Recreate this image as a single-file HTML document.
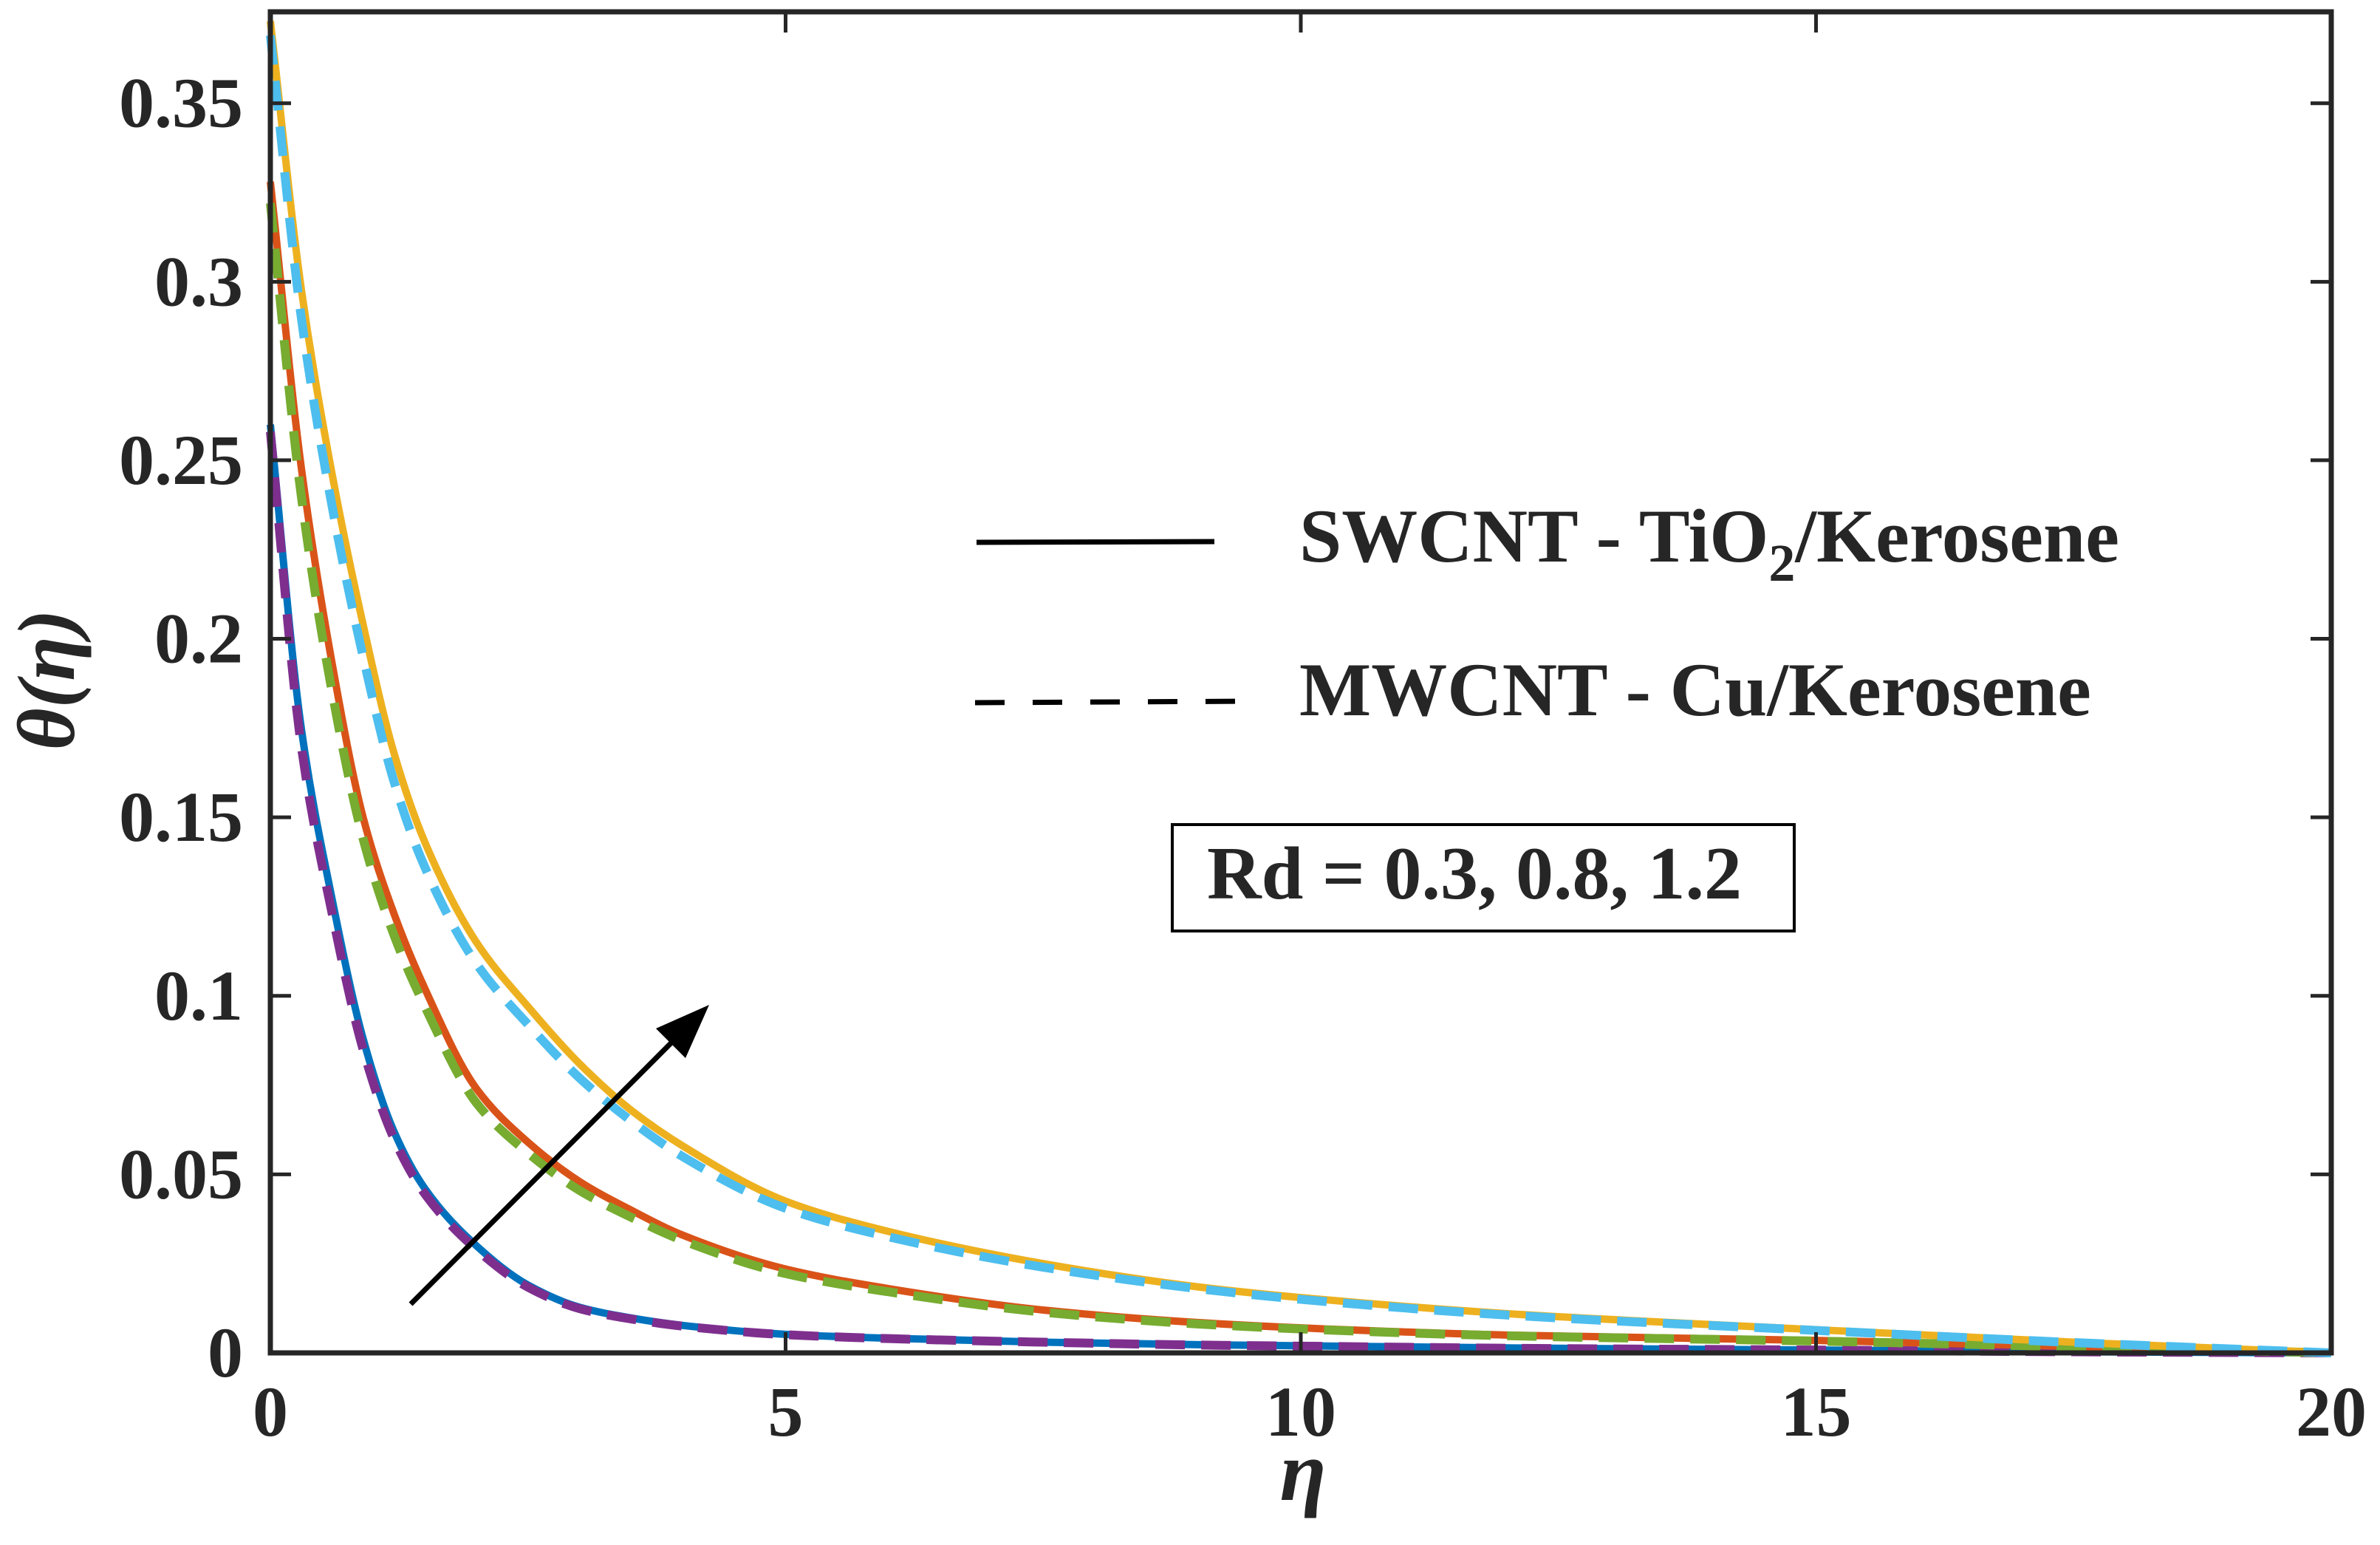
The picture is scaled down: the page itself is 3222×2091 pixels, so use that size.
<!DOCTYPE html>
<html><head><meta charset="utf-8"><style>
html,body{margin:0;padding:0;background:#fff;}
svg{display:block;}
text{font-family:"Liberation Serif",serif;font-weight:bold;fill:#262626;}
</style></head><body>
<svg id="chart" width="3222" height="2091" viewBox="0 0 3222 2091" xmlns="http://www.w3.org/2000/svg">
<g id="curves"></g>
<g id="axes"></g>
<g>
  <line x1="1322" y1="734" x2="1644" y2="733" stroke="#000" stroke-width="7"/>
  <text x="1759" y="760" font-size="103">SWCNT - TiO<tspan font-size="72" dy="26">2</tspan><tspan dy="-26">/Kerosene</tspan></text>
  <line x1="1320" y1="951" x2="1690" y2="949" stroke="#000" stroke-width="7" stroke-dasharray="40,38"/>
  <text x="1759" y="968" font-size="103">MWCNT - Cu/Kerosene</text>
</g>
<g>
  <rect x="1587" y="1116" width="842" height="144" fill="#fff" stroke="#000" stroke-width="4"/>
  <text x="1634" y="1216" font-size="102">Rd = 0.3, 0.8, 1.2</text>
</g>
<g>
  <line x1="556" y1="1765" x2="935" y2="1385" stroke="#000" stroke-width="7"/>
  <polygon points="960,1360 888,1392 928,1432" fill="#000"/>
</g>
<text transform="translate(100,920) rotate(-90)" text-anchor="middle" font-size="110" font-style="italic" font-weight="normal">θ(η)</text>
<text x="1764" y="2030" text-anchor="middle" font-size="115" font-style="italic" font-weight="normal">η</text>
</svg>
<script>
const etaValues = [0,0.3,0.6,0.9,1.2,1.5,2,2.5,3,3.5,4,5,6,7.5,9,10,12,15,17.5,20];
const swcntRd12 = [0.373,0.298,0.246,0.204,0.168,0.143,0.115,0.097,0.081,0.068,0.058,0.0425,0.034,0.025,0.0185,0.0155,0.011,0.0065,0.003,0];
const mwcntRd12 = [0.369,0.290,0.237,0.195,0.160,0.136,0.109,0.092,0.077,0.065,0.055,0.0405,0.0325,0.024,0.018,0.015,0.0106,0.0063,0.0029,0];
const swcntRd08 = [0.328,0.248,0.193,0.150,0.123,0.102,0.074,0.059,0.048,0.040,0.033,0.0235,0.018,0.012,0.0085,0.007,0.005,0.0035,0.0018,0];
const mwcntRd08 = [0.322,0.240,0.185,0.144,0.117,0.097,0.070,0.056,0.0455,0.038,0.0315,0.0222,0.0171,0.0114,0.0081,0.0067,0.0048,0.0033,0.0017,0];
const swcntRd03 = [0.260,0.175,0.127,0.088,0.062,0.046,0.030,0.019,0.0128,0.0098,0.0077,0.0052,0.0041,0.003,0.0023,0.002,0.0014,0.0008,0.0003,0];
const mwcntRd03 = [0.258,0.170,0.123,0.085,0.060,0.0445,0.029,0.0184,0.0124,0.0095,0.0075,0.0051,0.004,0.003,0.0022,0.0019,0.0013,0.0008,0.0003,0];
const xTicks = [0,5,10,15,20];
const yTicks = [0,0.05,0.1,0.15,0.2,0.25,0.3,0.35];
const yTickLabels = ["0","0.05","0.1","0.15","0.2","0.25","0.3","0.35"];

const L=366,R=3156,T=16,B=1831,XMAX=20,YMAX=0.3756;
function xs(v){return L+(v/XMAX)*(R-L);}
function ys(v){return B-(v/YMAX)*(B-T);}
const NS="http://www.w3.org/2000/svg";
function mk(tag,attrs,parent){const e=document.createElementNS(NS,tag);for(const k in attrs)e.setAttribute(k,attrs[k]);parent.appendChild(e);return e;}
function monoPath(xv,yv){
  const n=xv.length,X=xv.map(xs),Y=yv.map(ys);
  const d=[],m=new Array(n);
  for(let i=0;i<n-1;i++)d.push((Y[i+1]-Y[i])/(X[i+1]-X[i]));
  m[0]=d[0];m[n-1]=d[n-2];
  for(let i=1;i<n-1;i++){
    if(d[i-1]*d[i]<=0)m[i]=0;
    else{const h0=X[i]-X[i-1],h1=X[i+1]-X[i];const w1=2*h1+h0,w2=h1+2*h0;m[i]=(w1+w2)/(w1/d[i-1]+w2/d[i]);}
  }
  let p="M"+X[0]+","+Y[0];
  for(let i=0;i<n-1;i++){
    const h=(X[i+1]-X[i])/3;
    p+=" C"+(X[i]+h)+","+(Y[i]+m[i]*h)+" "+(X[i+1]-h)+","+(Y[i+1]-m[i+1]*h)+" "+X[i+1]+","+Y[i+1];
  }
  return p;
}
const curves=document.getElementById('curves');
const series=[
  [swcntRd03,"#0072BD",false,"curve-swcnt-rd-0-3"],
  [mwcntRd03,"#7E2F8E",true,"curve-mwcnt-rd-0-3"],
  [swcntRd08,"#D95319",false,"curve-swcnt-rd-0-8"],
  [mwcntRd08,"#77AC30",true,"curve-mwcnt-rd-0-8"],
  [swcntRd12,"#EDB120",false,"curve-swcnt-rd-1-2"],
  [mwcntRd12,"#4DBEEE",true,"curve-mwcnt-rd-1-2"]
];
series.forEach(s=>{
  const path=mk('path',{d:monoPath(etaValues,s[0]),fill:"none",stroke:s[1],"stroke-width":s[2]?12:10},curves);
  if(s[2])path.setAttribute('stroke-dasharray','40,22');
  
  
});
const axes=document.getElementById('axes');
const box=mk('rect',{x:L,y:T,width:R-L,height:B-T,fill:"none",stroke:"#262626","stroke-width":7},axes);


xTicks.forEach(v=>{
  const x=xs(v);
  mk('line',{x1:x,y1:B,x2:x,y2:B-28,stroke:"#262626","stroke-width":5},axes);
  mk('line',{x1:x,y1:T,x2:x,y2:T+28,stroke:"#262626","stroke-width":5},axes);
  const t=mk('text',{x:x,y:B+112,"text-anchor":"middle","font-size":96},axes);
  t.textContent=String(v);
  
  
});
yTicks.forEach((v,i)=>{
  const y=ys(v);
  mk('line',{x1:L,y1:y,x2:L+28,y2:y,stroke:"#262626","stroke-width":5},axes);
  mk('line',{x1:R,y1:y,x2:R-28,y2:y,stroke:"#262626","stroke-width":5},axes);
  const t=mk('text',{x:L-37,y:y+32,"text-anchor":"end","font-size":96},axes);
  t.textContent=yTickLabels[i];
  
  
});
</script>
</body></html>
